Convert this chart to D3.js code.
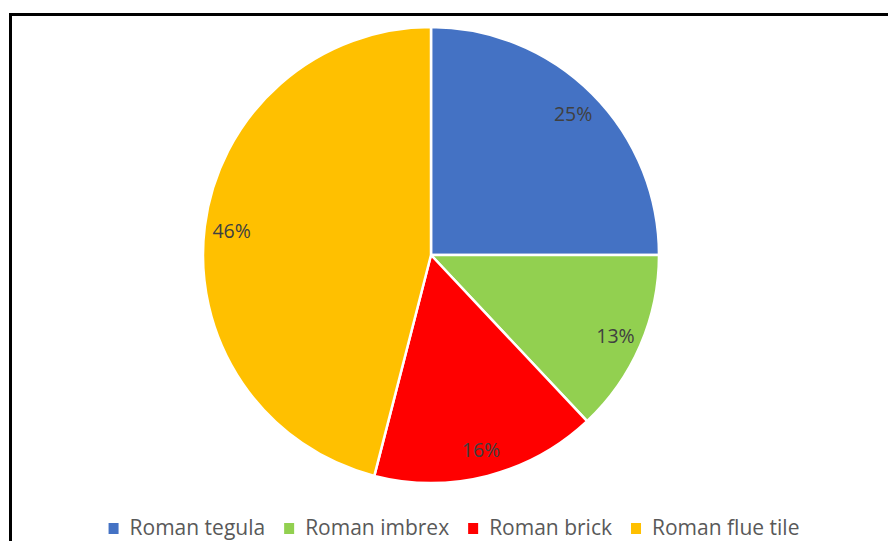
<!DOCTYPE html>
<html>
<head>
<meta charset="utf-8">
<script src="https://cdn.jsdelivr.net/npm/d3@7"></script>
<style>
  html, body { margin: 0; padding: 0; background: #fff; }
  svg { display: block; }
</style>
</head>
<body>
<svg id="chart" width="888" height="541"></svg>
<script>
// Share of Roman ceramic building material by type (%)
const categories = ["Roman tegula", "Roman imbrex", "Roman brick", "Roman flue tile"];
const values = [25, 13, 16, 46];
const colors = ["#4472C4", "#92D050", "#FF0000", "#FFC000"];

const svg = d3.select("#chart");
const W = 888, H = 541;

// chart frame (runs off the right and bottom edges)
svg.append("rect")
  .attr("x", 10.5).attr("y", 14.5)
  .attr("width", 1000).attr("height", 1000)
  .attr("fill", "#fff")
  .attr("stroke", "#000")
  .attr("stroke-width", 3);

const cx = 431, cy = 255, R = 228;

const pie = d3.pie().sort(null).value(d => d.value);
const arcs = pie(categories.map((c, i) => ({ name: c, value: values[i], color: colors[i] })));

const arc = d3.arc().innerRadius(0).outerRadius(R);
const labelArc = d3.arc().innerRadius(201).outerRadius(201);

const g = svg.append("g").attr("transform", `translate(${cx},${cy})`);

g.selectAll("path.slice")
  .data(arcs)
  .join("path")
  .attr("class", "slice")
  .attr("d", arc)
  .attr("fill", d => d.data.color)
  .attr("stroke", "#fff")
  .attr("stroke-width", 2.5)
  .attr("stroke-linejoin", "round");

const total = d3.sum(values);
g.selectAll("text.lbl")
  .data(arcs)
  .join("text")
  .attr("class", "lbl")
  .attr("transform", d => `translate(${labelArc.centroid(d)})`)
  .attr("text-anchor", "middle")
  .attr("dy", "0.4em")
  .attr("font-family", "'Open Sans', sans-serif")
  .attr("font-size", 19.5)
  .attr("fill", "#404040")
  .text(d => d3.format(".0%")(d.data.value / total));

// legend
const legend = svg.append("g").attr("class", "legend");
const items = legend.selectAll("g.item")
  .data(arcs.map(a => a.data))
  .join("g")
  .attr("class", "item");

items.append("rect")
  .attr("width", 10).attr("height", 11)
  .attr("fill", d => d.color);

items.append("text")
  .attr("x", 21)
  .attr("y", 11.5)
  .attr("font-family", "'Open Sans', sans-serif")
  .attr("font-size", 21)
  .attr("fill", "#595959")
  .text(d => d.name);

// lay out legend items in a centered row
const gap = 19;
let widths = [];
items.each(function () { widths.push(this.getBBox().width); });
const totalW = d3.sum(widths) + gap * (widths.length - 1);
let x0 = (W - totalW) / 2 + 10;
items.attr("transform", (d, i) => {
  const t = `translate(${x0},523)`;
  x0 += widths[i] + gap;
  return t;
});
</script>
</body>
</html>
